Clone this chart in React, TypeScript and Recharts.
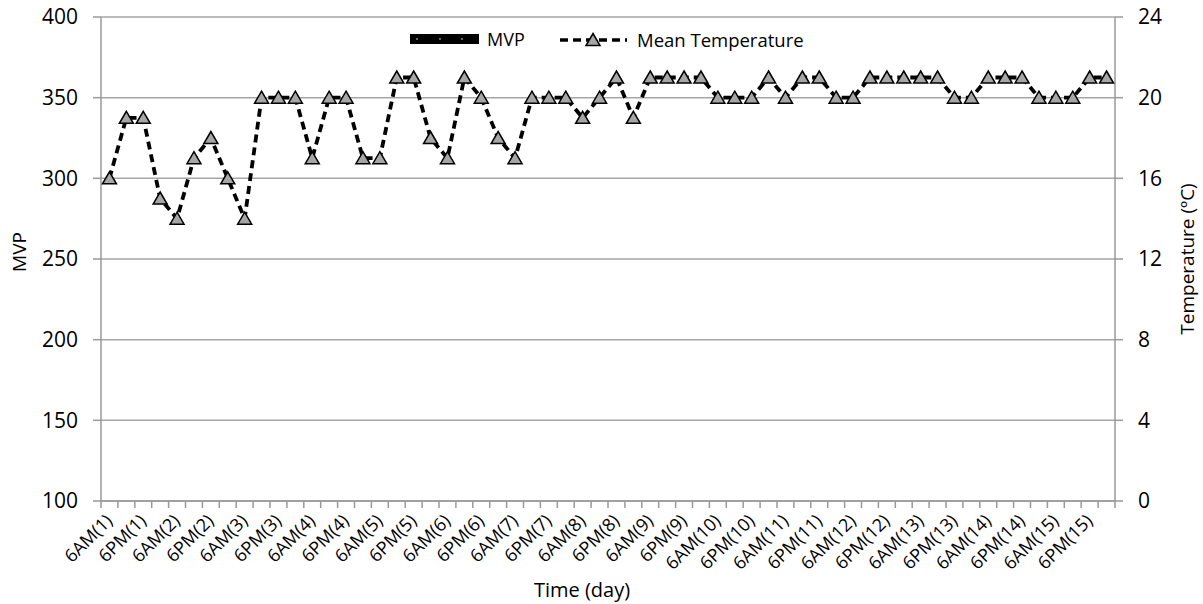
import React from 'react'
import {
  ComposedChart,
  Line,
  Bar,
  XAxis,
  YAxis,
  CartesianGrid,
} from 'recharts'

// categories: every other one is labelled on the axis
const categories = [
  '6AM(1)', '12PM(1)', '6PM(1)', '12AM(1)',
  '6AM(2)', '12PM(2)', '6PM(2)', '12AM(2)',
  '6AM(3)', '12PM(3)', '6PM(3)', '12AM(3)',
  '6AM(4)', '12PM(4)', '6PM(4)', '12AM(4)',
  '6AM(5)', '12PM(5)', '6PM(5)', '12AM(5)',
  '6AM(6)', '12PM(6)', '6PM(6)', '12AM(6)',
  '6AM(7)', '12PM(7)', '6PM(7)', '12AM(7)',
  '6AM(8)', '12PM(8)', '6PM(8)', '12AM(8)',
  '6AM(9)', '12PM(9)', '6PM(9)', '12AM(9)',
  '6AM(10)', '12PM(10)', '6PM(10)', '12AM(10)',
  '6AM(11)', '12PM(11)', '6PM(11)', '12AM(11)',
  '6AM(12)', '12PM(12)', '6PM(12)', '12AM(12)',
  '6AM(13)', '12PM(13)', '6PM(13)', '12AM(13)',
  '6AM(14)', '12PM(14)', '6PM(14)', '12AM(14)',
  '6AM(15)', '12PM(15)', '6PM(15)', '12AM(15)',
]

const meanTemperature = [
  16, 19, 19, 15, 14, 17, 18, 16, 14, 20, 20, 20, 17, 20, 20, 17, 17,
  21, 21, 18, 17, 21, 20, 18, 17, 20, 20, 20, 19, 20, 21, 19, 21, 21,
  21, 21, 20, 20, 20, 21, 20, 21, 21, 20, 20, 21, 21, 21, 21, 21, 20, 20,
  21, 21, 21, 20, 20, 20, 21, 21,
]

const mvpTicks = [100, 150, 200, 250, 300, 350, 400]
const tempTicks = [0, 4, 8, 12, 16, 20, 24]

const data = categories.map((time, i) => ({ time, temp: meanTemperature[i] }))

const W = 1203
const H = 604
const LEFT_W = 101
const RIGHT_W = 88
const BAND = (W - LEFT_W - RIGHT_W) / categories.length
const FONT = '"Open Sans", sans-serif'
const AXIS_GRAY = '#999999'

const Triangle = (props: any) => {
  const { cx, cy, index } = props
  if (cx == null || cy == null) return <g key={`t-${index}`} />
  return (
    <polygon
      key={`t-${index}`}
      points={`${cx},${cy - 6.5} ${cx + 7},${cy + 5.5} ${cx - 7},${cy + 5.5}`}
      fill="#a6a6a6"
      stroke="#000"
      strokeWidth={1.5}
    />
  )
}

const XTick = (props: any) => {
  const { x, y, payload, index } = props
  const i = payload?.index ?? index
  const left = x - BAND / 2
  const tx = x + 4
  const ty = y + 21
  return (
    <g>
      <line x1={left} y1={y} x2={left} y2={y + 7} stroke={AXIS_GRAY} strokeWidth={1.5} />
      {i === categories.length - 1 && (
        <line x1={x + BAND / 2} y1={y} x2={x + BAND / 2} y2={y + 7} stroke={AXIS_GRAY} strokeWidth={1.5} />
      )}
      {i % 2 === 0 && (
        <text
          x={tx}
          y={ty}
          transform={`rotate(-45, ${tx}, ${ty})`}
          textAnchor="end"
          fontSize={18}
          fontFamily={FONT}
          fill="#000"
        >
          {payload.value}
        </text>
      )}
    </g>
  )
}

const LegendOverlay = () => (
  <svg width={W} height={60} style={{ position: 'absolute', left: 0, top: 0, pointerEvents: 'none' }}>
    <rect x={410} y={34} width={69} height={10} fill="#000" />
    {[417, 440, 462].map((cx) => (
      <circle key={cx} cx={cx} cy={39} r={1} fill="#888" />
    ))}
    <text x={487} y={39} dominantBaseline="central" fontSize={18} fontFamily={FONT} fill="#000">
      MVP
    </text>
    <line x1={560} y1={40} x2={627} y2={40} stroke="#000" strokeWidth={3.5} strokeDasharray="8 5" />
    <polygon points="593,33.5 600,45.5 586,45.5" fill="#a6a6a6" stroke="#000" strokeWidth={1.5} />
    <text x={637} y={39} dominantBaseline="central" fontSize={18.5} fontFamily={FONT} fill="#000">
      Mean Temperature
    </text>
  </svg>
)

export default function App() {
  return (
    <div style={{ position: 'absolute', left: 0, top: 0, width: W, height: H, background: '#fff' }}>
      <ComposedChart
        width={W}
        height={H}
        data={data}
        margin={{ top: 17, right: 0, bottom: 0, left: 0 }}
        style={{ fontFamily: FONT }}
      >
        <CartesianGrid yAxisId="left" vertical={false} stroke="#a6a6a6" strokeWidth={1.5} />
        <XAxis
          dataKey="time"
          interval={0}
          height={H - 17 - 484}
          tick={<XTick />}
          tickLine={false}
          tickSize={0}
          tickMargin={0}
          axisLine={{ stroke: AXIS_GRAY, strokeWidth: 1.5 }}
          label={{ value: 'Time (day)', position: 'insideBottom', offset: 7, dx: -26, fontSize: 20, fill: '#000', fontFamily: FONT }}
        />
        <YAxis
          yAxisId="left"
          width={LEFT_W}
          type="number"
          domain={[100, 400]}
          allowDataOverflow
          ticks={mvpTicks}
          tickSize={8}
          tickMargin={15}
          tick={{ fontSize: 21, fill: '#000', fontFamily: FONT }}
          tickLine={{ stroke: AXIS_GRAY, strokeWidth: 1.5 }}
          axisLine={{ stroke: AXIS_GRAY, strokeWidth: 1.5 }}
          label={{ value: 'MVP', angle: -90, position: 'center', dx: -31, dy: -7, fontSize: 19, fill: '#000', fontFamily: FONT }}
        />
        <YAxis
          yAxisId="right"
          orientation="right"
          width={RIGHT_W}
          type="number"
          domain={[0, 24]}
          allowDataOverflow
          ticks={tempTicks}
          tickSize={8}
          tickMargin={15}
          tick={{ fontSize: 21, fill: '#000', fontFamily: FONT }}
          tickLine={{ stroke: AXIS_GRAY, strokeWidth: 1.5 }}
          axisLine={{ stroke: AXIS_GRAY, strokeWidth: 1.5 }}
          label={{ value: 'Temperature (ºC)', angle: -90, position: 'center', dx: 28, fontSize: 19, fill: '#000', fontFamily: FONT }}
        />
        <Bar yAxisId="left" dataKey="mvp" name="MVP" fill="#000" isAnimationActive={false} />
        <Line
          yAxisId="right"
          type="linear"
          dataKey="temp"
          name="Mean Temperature"
          stroke="#000"
          strokeWidth={3.8}
          strokeDasharray="8 5"
          dot={Triangle}
          activeDot={false}
          isAnimationActive={false}
        />
      </ComposedChart>
      <LegendOverlay />
    </div>
  )
}
